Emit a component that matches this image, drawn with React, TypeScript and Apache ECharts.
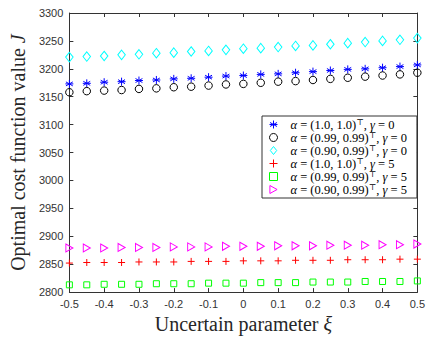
import React, { useEffect, useRef } from "react";
import * as echarts from "echarts";

const xs = [-0.5, -0.45, -0.4, -0.35, -0.3, -0.25, -0.2, -0.15, -0.1, -0.05, 0, 0.05, 0.1, 0.15, 0.2, 0.25, 0.3, 0.35, 0.4, 0.45, 0.5];

const starVals = [3173, 3174, 3176, 3177, 3179, 3180, 3182, 3183, 3185, 3187, 3188, 3190, 3191, 3193, 3195, 3197, 3199, 3200, 3202, 3204, 3207];
const circleVals = [3158, 3160, 3161, 3162, 3164, 3165, 3167, 3168, 3170, 3172, 3173, 3175, 3177, 3178, 3180, 3182, 3184, 3186, 3188, 3190, 3193];
const diamondVals = [3221, 3222, 3223, 3225, 3226, 3228, 3229, 3231, 3232, 3234, 3236, 3237, 3239, 3241, 3242, 3244, 3246, 3248, 3250, 3252, 3255];
const plusVals = [2852, 2853, 2853, 2853, 2854, 2854, 2854, 2855, 2855, 2855, 2856, 2856, 2856, 2857, 2857, 2857, 2858, 2858, 2858, 2859, 2859];
const squareVals = [2813, 2813, 2814, 2814, 2814, 2815, 2815, 2815, 2816, 2816, 2816, 2817, 2817, 2817, 2818, 2818, 2818, 2819, 2819, 2819, 2820];
const triVals = [2879, 2879, 2879, 2880, 2880, 2880, 2881, 2881, 2881, 2882, 2882, 2882, 2883, 2883, 2883, 2884, 2884, 2884, 2885, 2885, 2886];

const seriesNames = [
  "{i|α} = (1.0, 1.0){s|⊤}, {i|γ} = 0",
  "{i|α} = (0.99, 0.99){s|⊤}, {i|γ} = 0",
  "{i|α} = (0.90, 0.99){s|⊤}, {i|γ} = 0",
  "{i|α} = (1.0, 1.0){s|⊤}, {i|γ} = 5",
  "{i|α} = (0.99, 0.99){s|⊤}, {i|γ} = 5",
  "{i|α} = (0.90, 0.99){s|⊤}, {i|γ} = 5",
];

const AX = "#333333";
const SERIF = "'Liberation Serif', 'DejaVu Serif', serif";

const STAR = "path://M5,0L5,10M0.7,2.5L9.3,7.5M0.7,7.5L9.3,2.5M0,5L10,5";
const PLUS = "path://M5,0L5,10M0,5L10,5";
const TRI = "path://M0,0L9,5L0,10Z";
const DIAM = "path://M4,0L8,5L4,10L0,5Z";
const SQ = "path://M0,0L10,0L10,10L0,10Z";
const CIRC = "circle";

export default function App() {
  const ref = useRef<HTMLDivElement>(null);
  useEffect(() => {
    if (!ref.current) return;
    const chart = echarts.init(ref.current, null, { renderer: "svg" });
    const mk = (vals: number[]) => xs.map((x, i) => [x, vals[i]]);
    const specs = [
      { vals: starVals, symbol: STAR, size: 8, color: "#0000ff" },
      { vals: circleVals, symbol: CIRC, size: 7.5, color: "#000000" },
      { vals: diamondVals, symbol: DIAM, size: [7.5, 9.5], color: "#00ffff" },
      { vals: plusVals, symbol: PLUS, size: 7, color: "#ff0000" },
      { vals: squareVals, symbol: SQ, size: 6, color: "#00ff00" },
      { vals: triVals, symbol: TRI, size: [7, 8], color: "#ff00ff" },
    ];
    const series = specs.map((s, k) => ({
      type: "scatter",
      name: seriesNames[k],
      data: mk(s.vals),
      symbol: s.symbol,
      symbolSize: s.size,
      clip: false,
      itemStyle: { color: "rgba(0,0,0,0)", borderColor: s.color, borderWidth: 1, opacity: 1 },
      emphasis: { disabled: true },
      z: 3,
    }));
    const tickStyle = { show: true, inside: true, length: 4, lineStyle: { color: AX, width: 1 } };
    const lineStyle = { show: true, onZero: false, lineStyle: { color: AX, width: 1 } };
    chart.setOption({
      animation: false,
      grid: { left: 62, right: 4, top: 13, bottom: 41, containLabel: false },
      legend: {
        orient: "vertical",
        left: 262,
        top: 116,
        padding: [2, 10, 2, 7],
        itemWidth: 24,
        itemHeight: 8,
        itemGap: 0,
        borderColor: AX,
        borderWidth: 1,
        backgroundColor: "#ffffff",
        selectedMode: false,
        symbolKeepAspect: true,
        itemStyle: { borderWidth: 1 },
        data: seriesNames.map((n, k) => ({ name: n, icon: specs[k].symbol })),
        textStyle: {
          fontFamily: SERIF,
          fontSize: 12.5,
          color: "#000",
          lineHeight: 12.3,
          rich: {
            i: { fontFamily: SERIF, fontStyle: "italic", fontSize: 12.5, lineHeight: 12.3 },
            s: { fontFamily: SERIF, fontSize: 8, verticalAlign: "top", lineHeight: 12.3 },
          },
        },
      },
      xAxis: [
        {
          type: "value",
          min: -0.5,
          max: 0.5,
          interval: 0.1,
          position: "bottom",
          name: "Uncertain parameter {i|ξ}",
          nameLocation: "middle",
          nameGap: 20,
          nameTextStyle: {
            fontFamily: SERIF,
            fontSize: 20,
            color: "#262626",
            rich: { i: { fontFamily: SERIF, fontStyle: "italic", fontSize: 20, color: "#262626" } },
          },
          axisLine: lineStyle,
          axisTick: tickStyle,
          splitLine: { show: false },
          axisLabel: {
            color: AX,
            fontFamily: "'Liberation Sans', Arial, sans-serif",
            fontSize: 11,
            margin: 6,
            formatter: (v: number) => String(Number(v.toFixed(1))),
          },
        },
        {
          type: "value",
          min: -0.5,
          max: 0.5,
          interval: 0.1,
          position: "top",
          axisLine: lineStyle,
          axisTick: tickStyle,
          axisLabel: { show: false },
          splitLine: { show: false },
        },
      ],
      yAxis: [
        {
          type: "value",
          min: 2800,
          max: 3300,
          interval: 50,
          position: "left",
          name: "Optimal cost function value {i|J}",
          nameLocation: "middle",
          nameGap: 37,
          nameTextStyle: {
            fontFamily: SERIF,
            fontSize: 20,
            color: "#262626",
            rich: { i: { fontFamily: SERIF, fontStyle: "italic", fontSize: 20, color: "#262626" } },
          },
          axisLine: lineStyle,
          axisTick: tickStyle,
          splitLine: { show: false },
          axisLabel: {
            color: AX,
            fontFamily: "'Liberation Sans', Arial, sans-serif",
            fontSize: 11,
            margin: 6,
            formatter: (v: number) => String(v),
          },
        },
        {
          type: "value",
          min: 2800,
          max: 3300,
          interval: 50,
          position: "right",
          axisLine: lineStyle,
          axisTick: tickStyle,
          axisLabel: { show: false },
          splitLine: { show: false },
        },
      ],
      series,
    });
    return () => chart.dispose();
  }, []);
  return (
    <div
      ref={ref}
      style={{ position: "fixed", left: 0, top: 0, width: 428, height: 339, background: "#fff" }}
    />
  );
}
